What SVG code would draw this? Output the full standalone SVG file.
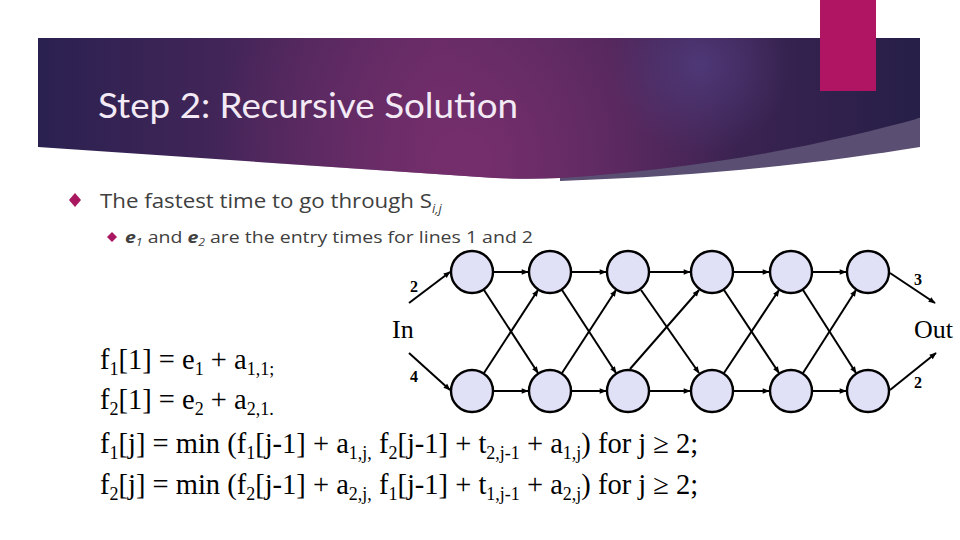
<svg xmlns="http://www.w3.org/2000/svg" width="960" height="540" viewBox="0 0 960 540">
  <defs>
    <linearGradient id="bannerLin" x1="0" y1="0" x2="1" y2="0">
      <stop offset="0" stop-color="#2a2150"/>
      <stop offset="0.45" stop-color="#5e2a62"/>
      <stop offset="1" stop-color="#261f47"/>
    </linearGradient>
    <radialGradient id="glowMag" cx="470" cy="160" r="260" gradientUnits="userSpaceOnUse">
      <stop offset="0" stop-color="#7a2f6e" stop-opacity="0.85"/>
      <stop offset="1" stop-color="#7a2f6e" stop-opacity="0"/>
    </radialGradient>
    <radialGradient id="glowPur" cx="700" cy="65" r="90" gradientUnits="userSpaceOnUse">
      <stop offset="0" stop-color="#4f3a7a" stop-opacity="0.9"/>
      <stop offset="1" stop-color="#4f3a7a" stop-opacity="0"/>
    </radialGradient>
    <marker id="arr" viewBox="0 0 10 10" refX="9" refY="5" markerWidth="8" markerHeight="7" markerUnits="userSpaceOnUse" orient="auto">
      <path d="M0,1 L10,5 L0,9 Z" fill="#000"/>
    </marker>
    <style>
      .node circle { fill: #e0e0f7; stroke: #000; stroke-width: 2.4; }
      .edge { stroke: #000; stroke-width: 2; fill: none; marker-end: url(#arr); }
      .lbl { font-family: "Liberation Serif", "Times New Roman", serif; font-weight: bold; font-size: 16px; fill: #000; }
      .io { font-family: "Liberation Serif", "Times New Roman", serif; font-size: 26px; fill: #000; }
      .eq { font-family: "Liberation Serif", "Times New Roman", serif; font-size: 28.5px; fill: #000; }
      .sub { font-size: 18px; }
      .title { font-family: "Lato", "Open Sans", sans-serif; font-size: 34px; fill: #f3eaf5; }
      .body { font-family: "Open Sans", "Lato", sans-serif; fill: #404040; }
      .bullet { fill: #a8175f; }
    </style>
  </defs>

  <rect width="960" height="540" fill="#ffffff"/>

  <!-- banner -->
  <g id="banner">
    <path d="M920,118 V147 C840,160 720,176 560,181 L560,170 Z" fill="#5a4e72"/>
    <path d="M38,38 H920 V118 C840,140 720,168 560,178 Q520,180 480,177 L38,147 Z" fill="url(#bannerLin)"/>
    <path d="M38,38 H920 V118 C840,140 720,168 560,178 Q520,180 480,177 L38,147 Z" fill="url(#glowMag)"/>
    <path d="M38,38 H920 V118 C840,140 720,168 560,178 Q520,180 480,177 L38,147 Z" fill="url(#glowPur)"/>
    <rect x="820" y="0" width="56" height="91" fill="#b01563"/>
    <text class="title" x="98" y="118" textLength="420" lengthAdjust="spacingAndGlyphs">Step 2: Recursive Solution</text>
  </g>

  <!-- bullets -->
  <g id="bullets">
    <path class="bullet" d="M75,193 L81,200 L75,207 L69,200 Z"/>
    <text class="body" x="100" y="208" font-size="20"><tspan textLength="332" lengthAdjust="spacingAndGlyphs">The fastest time to go through S</tspan><tspan font-style="italic" font-size="13" dy="5">i,j</tspan></text>
    <path class="bullet" d="M112,232 L117,237 L112,242 L107,237 Z"/>
    <text class="body" x="125" y="243" font-size="16" textLength="408" lengthAdjust="spacingAndGlyphs"><tspan font-style="italic" font-weight="bold">e</tspan><tspan font-style="italic" font-size="10" dy="3">1</tspan><tspan dy="-3"> and </tspan><tspan font-style="italic" font-weight="bold">e</tspan><tspan font-style="italic" font-size="10" dy="3">2</tspan><tspan dy="-3"> are the entry times for lines 1 and 2</tspan></text>
  </g>

  <!-- connectors -->
  <g id="connectors">
    <line class="edge" x1="409" y1="303" x2="450" y2="272"/>
    <line class="edge" x1="409" y1="353" x2="450" y2="390"/>
    <line class="edge" x1="494" y1="272" x2="528" y2="272"/>
    <line class="edge" x1="572" y1="272" x2="606" y2="272"/>
    <line class="edge" x1="650" y1="272" x2="690" y2="272"/>
    <line class="edge" x1="734" y1="272" x2="769" y2="272"/>
    <line class="edge" x1="813" y1="272" x2="846" y2="272"/>
    <line class="edge" x1="494" y1="391" x2="528" y2="391"/>
    <line class="edge" x1="572" y1="391" x2="606" y2="391"/>
    <line class="edge" x1="650" y1="391" x2="690" y2="391"/>
    <line class="edge" x1="734" y1="391" x2="769" y2="391"/>
    <line class="edge" x1="813" y1="391" x2="846" y2="391"/>
    <line class="edge" x1="484" y1="290" x2="538" y2="373"/>
    <line class="edge" x1="484" y1="373" x2="538" y2="290"/>
    <line class="edge" x1="562" y1="290" x2="616" y2="373"/>
    <line class="edge" x1="562" y1="373" x2="616" y2="290"/>
    <line class="edge" x1="641" y1="290" x2="699" y2="373"/>
    <line class="edge" x1="630" y1="369" x2="699" y2="290"/>
    <line class="edge" x1="724" y1="290" x2="779" y2="373"/>
    <line class="edge" x1="724" y1="373" x2="779" y2="290"/>
    <line class="edge" x1="803" y1="290" x2="856" y2="373"/>
    <line class="edge" x1="803" y1="373" x2="856" y2="290"/>
    <line class="edge" x1="890" y1="273" x2="935" y2="303"/>
    <line class="edge" x1="890" y1="390" x2="936" y2="353"/>
  </g>

  <!-- nodes -->
  <g id="t1" class="node"><circle cx="472" cy="272" r="21"/></g>
  <g id="t2" class="node"><circle cx="550" cy="272" r="21"/></g>
  <g id="t3" class="node"><circle cx="628" cy="272" r="21"/></g>
  <g id="t4" class="node"><circle cx="712" cy="272" r="21"/></g>
  <g id="t5" class="node"><circle cx="791" cy="272" r="21"/></g>
  <g id="t6" class="node"><circle cx="868" cy="272" r="21"/></g>
  <g id="b1" class="node"><circle cx="472" cy="391" r="21"/></g>
  <g id="b2" class="node"><circle cx="550" cy="391" r="21"/></g>
  <g id="b3" class="node"><circle cx="628" cy="391" r="21"/></g>
  <g id="b4" class="node"><circle cx="712" cy="391" r="21"/></g>
  <g id="b5" class="node"><circle cx="791" cy="391" r="21"/></g>
  <g id="b6" class="node"><circle cx="868" cy="391" r="21"/></g>

  <!-- labels -->
  <g id="labels">
    <text class="lbl" x="410" y="292">2</text>
    <text class="lbl" x="410" y="382">4</text>
    <text class="lbl" x="914" y="285">3</text>
    <text class="lbl" x="914" y="388">2</text>
    <text class="io" x="392" y="338">In</text>
    <text class="io" x="914" y="338">Out</text>
  </g>

  <!-- equations -->
  <g id="equations">
    <text class="eq" x="100" y="369">f<tspan class="sub" dy="6">1</tspan><tspan dy="-6">[1] = e</tspan><tspan class="sub" dy="6">1</tspan><tspan dy="-6"> + a</tspan><tspan class="sub" dy="6">1,1;</tspan></text>
    <text class="eq" x="100" y="409">f<tspan class="sub" dy="6">2</tspan><tspan dy="-6">[1] = e</tspan><tspan class="sub" dy="6">2</tspan><tspan dy="-6"> + a</tspan><tspan class="sub" dy="6">2,1.</tspan></text>
    <text class="eq" x="100" y="453">f<tspan class="sub" dy="6">1</tspan><tspan dy="-6">[j] = min (f</tspan><tspan class="sub" dy="6">1</tspan><tspan dy="-6">[j-1] + a</tspan><tspan class="sub" dy="6">1,j,</tspan><tspan dy="-6"> f</tspan><tspan class="sub" dy="6">2</tspan><tspan dy="-6">[j-1] + t</tspan><tspan class="sub" dy="6">2,j-1</tspan><tspan dy="-6"> + a</tspan><tspan class="sub" dy="6">1,j</tspan><tspan dy="-6">) for j ≥ 2;</tspan></text>
    <text class="eq" x="100" y="494">f<tspan class="sub" dy="6">2</tspan><tspan dy="-6">[j] = min (f</tspan><tspan class="sub" dy="6">2</tspan><tspan dy="-6">[j-1] + a</tspan><tspan class="sub" dy="6">2,j,</tspan><tspan dy="-6"> f</tspan><tspan class="sub" dy="6">1</tspan><tspan dy="-6">[j-1] + t</tspan><tspan class="sub" dy="6">1,j-1</tspan><tspan dy="-6"> + a</tspan><tspan class="sub" dy="6">2,j</tspan><tspan dy="-6">) for j ≥ 2;</tspan></text>
  </g>
</svg>
